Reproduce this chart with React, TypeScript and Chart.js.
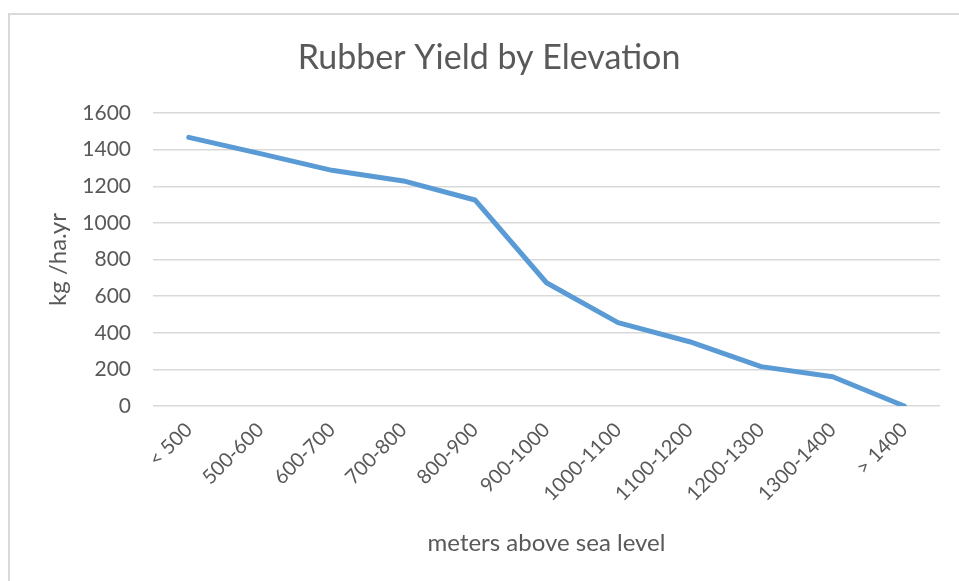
import React, { useEffect, useRef } from "react";
import { Chart, registerables } from "chart.js";

Chart.register(...registerables);

const categories = ["< 500", "500-600", "600-700", "700-800", "800-900", "900-1000", "1000-1100", "1100-1200", "1200-1300", "1300-1400", "> 1400"];
const yieldValues = [1467, 1378, 1287, 1229, 1125, 673, 455, 351, 215, 160, 0];
const chartTitle = "Rubber Yield by Elevation";
const xTitle = "meters above sea level";
const yTitle = "kg /ha.yr";

const FONT = "Lato, 'Open Sans', sans-serif";
const GREY = "#595959";

export default function App() {
  const ref = useRef<HTMLCanvasElement | null>(null);
  useEffect(() => {
    if (!ref.current) return;
    const chart = new Chart(ref.current, {
      type: "line",
      data: {
        labels: categories,
        datasets: [
          {
            data: yieldValues,
            borderColor: "#5b9bd5",
            backgroundColor: "#5b9bd5",
            borderWidth: 5,
            pointRadius: 0,
            borderCapStyle: "round",
            borderJoinStyle: "round",
            tension: 0,
          },
        ],
      },
      options: {
        responsive: false,
        animation: false,
        layout: { padding: { left: 38, right: 19, top: 0, bottom: 0 } },
        plugins: {
          legend: { display: false },
          tooltip: { enabled: false },
          title: {
            display: true,
            text: chartTitle,
            color: GREY,
            font: { family: FONT, size: 34, weight: "normal", lineHeight: 1.2 },
            padding: { top: 37.6, bottom: 34.6 },
          },
        },
        scales: {
          x: {
            offset: true,
            grid: { display: false, drawTicks: false },
            border: { display: false },
            ticks: {
              color: GREY,
              font: { family: FONT, size: 20 },
              maxRotation: 45,
              minRotation: 45,
              padding: 12,
              autoSkip: false,
            },
            title: {
              display: true,
              text: xTitle,
              color: GREY,
              font: { family: FONT, size: 24, lineHeight: 1.2 },
              padding: { top: 0, bottom: 23.6 },
            },
            afterFit: (scale: any) => {
              scale.height = 175;
            },
          },
          y: {
            min: 0,
            max: 1600,
            grid: { color: "#d9d9d9", lineWidth: 1.5, drawTicks: false },
            border: { display: false },
            ticks: {
              stepSize: 200,
              color: GREY,
              font: { family: FONT, size: 21 },
              padding: 22,
              callback: (v: any) => String(v),
            },
            title: {
              display: true,
              text: yTitle,
              color: GREY,
              font: { family: FONT, size: 24, lineHeight: 1.2 },
              padding: { top: 5.6, bottom: 0 },
            },
            afterFit: (scale: any) => {
              scale.width = 115;
            },
          },
        },
      },
    });
    return () => chart.destroy();
  }, []);

  return (
    <div style={{ position: "fixed", left: 0, top: 0, width: 959, height: 581, background: "#fff", overflow: "hidden" }}>
      <div
        style={{
          position: "absolute",
          left: 8,
          top: 13,
          right: -10,
          bottom: -10,
          borderLeft: "2px solid #d9d9d9",
          borderTop: "2px solid #d9d9d9",
        }}
      />
      <canvas ref={ref} width={959} height={581} style={{ position: "absolute", left: 0, top: 0 }} />
    </div>
  );
}
